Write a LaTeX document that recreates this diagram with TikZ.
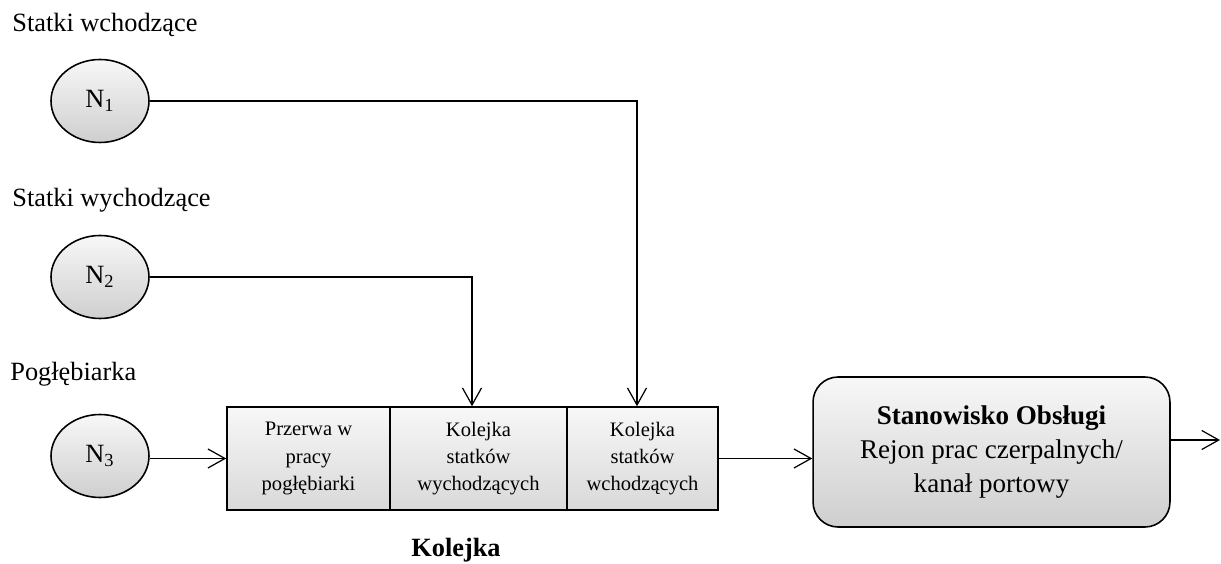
\documentclass[tikz,border=0pt]{standalone}
\usepackage{fontspec}
\setmainfont{Liberation Serif}
\usetikzlibrary{arrows.meta}
\usetikzlibrary{shapes.geometric}

\tikzset{
  zrodlo/.style={ellipse, draw, line width=0.9pt, top color=gray!6, bottom color=gray!38,
    minimum width=1.96cm, minimum height=1.66cm, inner sep=0pt, font=\fontsize{15}{18}\selectfont},
  kolejka/.style={rectangle, draw, line width=0.9pt, top color=gray!6, bottom color=gray!30,
    minimum height=2.06cm, align=center, inner sep=0pt, font=\fontsize{11.7}{15.4}\selectfont},
  opis/.style={anchor=base west, inner sep=0pt, font=\fontsize{15}{18}\selectfont},
  strz/.style={-{Straight Barb[length=0.34cm, width=0.38cm]}, line width=0.7pt},
}

\begin{document}
\begin{tikzpicture}[x=0.02cm, y=-0.02cm]
        \useasboundingbox (0,0) rectangle (1221,564);
        % zrodla zgloszen
        \node[opis] (Lwe) at (12,32) {Statki wchodzące};
        \node[opis] (Lwy) at (12,207) {Statki wychodzące};
        \node[opis] (Lpo) at (10,380) {Pogłębiarka};
        \node[zrodlo] (N1) at (100,101) {N\textsubscript{1}};
        \node[zrodlo] (N2) at (100,277) {N\textsubscript{2}};
        \node[zrodlo] (N3) at (100,456) {N\textsubscript{3}};
        % kolejka
        \node[kolejka, minimum width=3.26cm] (przerwa) at (308.5,458.5) {Przerwa w\\pracy\\pogłębiarki};
        \node[kolejka, minimum width=3.54cm] (kolwy) at (478.5,458.5) {Kolejka\\statków\\wychodzących};
        \node[kolejka, minimum width=3.02cm] (kolwe) at (642.5,458.5) {Kolejka\\statków\\wchodzących};
        \node[font=\fontsize{15}{18}\selectfont\bfseries] (kol) at (456,550) {Kolejka};
        % stanowisko obslugi
        \node[rectangle, rounded corners=0.5cm, draw, line width=0.9pt, top color=gray!6, bottom color=gray!38,
          minimum width=7.14cm, minimum height=3cm, align=center, font=\fontsize{15.4}{19.3}\selectfont]
          (stan) at (991.5,452) {\textbf{Stanowisko Obsługi}\\Rejon prac czerpalnych/\\kanał portowy};
        \coordinate (wyj) at (1220,440);
        % polaczenia
        \draw[strz] (N1.east) -| (kolwe.north -| 637,0);
        \draw[strz] (N2.east) -| (kolwy.north -| 472,0);
        \draw[strz] (N3.east |- przerwa.west) -- (przerwa.west);
        \draw[strz] (kolwe.east) -- (kolwe.east -| stan.west);
        \draw[strz] (stan.east |- wyj) -- (wyj);
\end{tikzpicture}
\end{document}
